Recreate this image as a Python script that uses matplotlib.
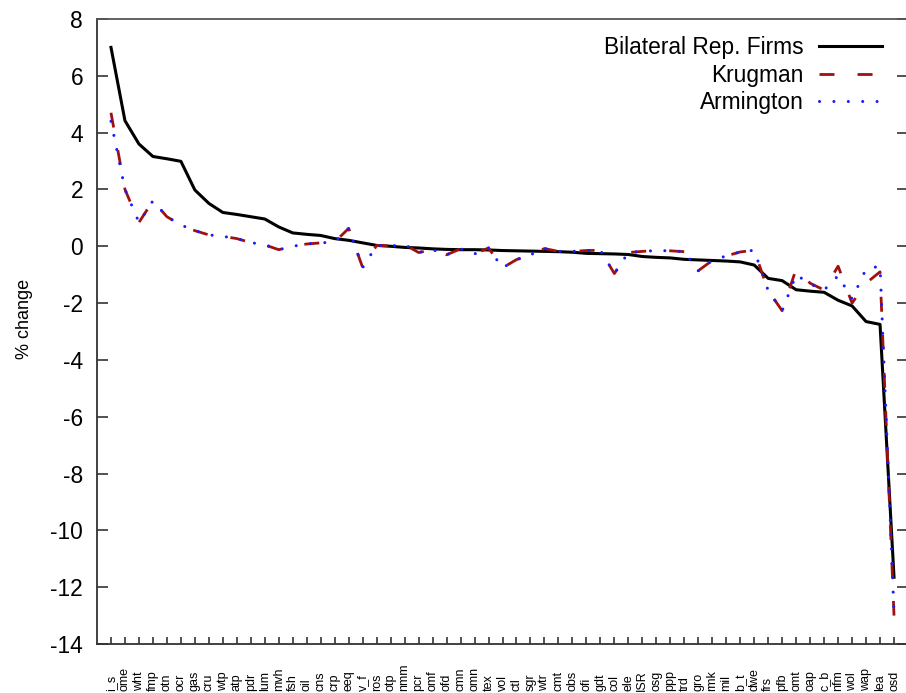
import matplotlib
matplotlib.use("Agg")
import matplotlib.pyplot as plt
import numpy as np

plt.rcParams['font.family'] = ['Liberation Sans', 'DejaVu Sans']

sectors = ["i_s", "ome", "wht", "fmp", "otn", "ocr", "gas", "cru", "wtp", "atp",
           "pdr", "lum", "mvh", "fsh", "oil", "cns", "crp", "eeq", "v_f", "ros",
           "otp", "nmm", "pcr", "omf", "ofd", "cmn", "omn", "tex", "vol", "ctl",
           "sgr", "wtr", "cmt", "obs", "ofi", "gdt", "col", "ele", "ISR", "osg",
           "ppp", "trd", "gro", "rmk", "mil", "b_t", "dwe", "frs", "pfb", "omt",
           "oap", "c_b", "nfm", "wol", "wap", "lea", "osd"]

bilateral = [7.0, 4.42, 3.6, 3.16, 3.08, 2.99, 1.98, 1.51, 1.19, 1.12,
             1.04, 0.96, 0.68, 0.47, 0.42, 0.38, 0.27, 0.21, 0.12, 0.03,
             0.0, -0.04, -0.06, -0.09, -0.11, -0.12, -0.12, -0.13, -0.15, -0.16,
             -0.17, -0.18, -0.19, -0.21, -0.25, -0.26, -0.27, -0.29, -0.36, -0.39,
             -0.41, -0.46, -0.48, -0.50, -0.52, -0.55, -0.66, -1.13, -1.21, -1.53,
             -1.58, -1.62, -1.90, -2.10, -2.65, -2.75, -11.65]

krugman = [4.7, 2.0, 0.84, 1.6, 1.04, 0.75, 0.55, 0.4, 0.35, 0.27,
           0.13, 0.05, -0.12, 0.0, 0.08, 0.12, 0.15, 0.63, -0.75, 0.03,
           0.01, 0.06, -0.22, -0.12, -0.3, -0.09, -0.27, -0.06, -0.76, -0.47,
           -0.3, -0.08, -0.18, -0.18, -0.15, -0.14, -0.96, -0.22, -0.18, -0.15,
           -0.16, -0.19, -0.86, -0.5, -0.34, -0.2, -0.14, -1.56, -2.27, -0.8,
           -1.3, -1.54, -0.7, -2.0, -1.3, -0.9, -13.0]

armington = [4.4, 2.0, 0.84, 1.6, 1.04, 0.75, 0.55, 0.4, 0.35, 0.27,
             0.13, 0.05, -0.12, 0.0, 0.08, 0.12, 0.15, 0.63, -0.75, 0.03,
             0.01, 0.06, -0.22, -0.12, -0.3, -0.09, -0.27, -0.06, -0.76, -0.47,
             -0.3, -0.08, -0.18, -0.18, -0.15, -0.14, -0.96, -0.22, -0.18, -0.15,
             -0.16, -0.19, -0.86, -0.5, -0.34, -0.2, -0.14, -1.56, -2.27, -1.0,
             -1.33, -1.54, -1.04, -1.85, -0.8, -0.7, -12.9]

yticks = list(range(-14, 9, 2))

W, H = 906, 693
fig = plt.figure(figsize=(W / 100, H / 100), dpi=100)
left, right, top, bottom = 97, 908, 19, 644
ax = fig.add_axes([left / W, (H - bottom) / H, (right - left) / W, (bottom - top) / H])

x = np.arange(len(sectors))
ax.plot(x, bilateral, color='black', lw=2.2, label='Bilateral Rep. Firms', zorder=3)
ax.plot(x, krugman, color='#a01010', lw=2.0, linestyle=(0, (5.4, 8.3)),
        label='Krugman', zorder=4)
ax.plot(x, armington, color='#1a1aff', lw=2.2, linestyle=(0, (0.01, 4.7)),
        dash_capstyle='round', label='Armington', zorder=5)

ax.set_xlim(-1, 57)
ax.set_ylim(-14, 8)
ax.set_yticks(yticks)
ax.set_yticklabels([str(v) for v in yticks])
ax.set_xticks(x)
ax.set_xticklabels(sectors, rotation=90, fontsize=9, va='bottom', ha='center')

ax.tick_params(axis='y', direction='in', length=8, width=1.2, right=True,
               labelsize=16.4, pad=10, color='#333333')
ax.tick_params(axis='x', direction='in', length=5, width=1.2, top=False,
               pad=34, color='#333333')

for s in ax.spines.values():
    s.set_color('#333333')
    s.set_linewidth(1.3)
ax.spines['top'].set_color('#555555')

ax.set_ylabel('% change', fontsize=13)
ax.yaxis.set_label_coords(-0.079, 0.52)

leg = ax.legend(loc='upper right', markerfirst=False, frameon=False,
                fontsize=16.4, handlelength=2.76, handletextpad=0.66,
                labelspacing=0.2, borderaxespad=0.0,
                bbox_to_anchor=((891 - left) / (right - left), (bottom - 27) / (bottom - top)))

fig.savefig('out.png', dpi=100)
